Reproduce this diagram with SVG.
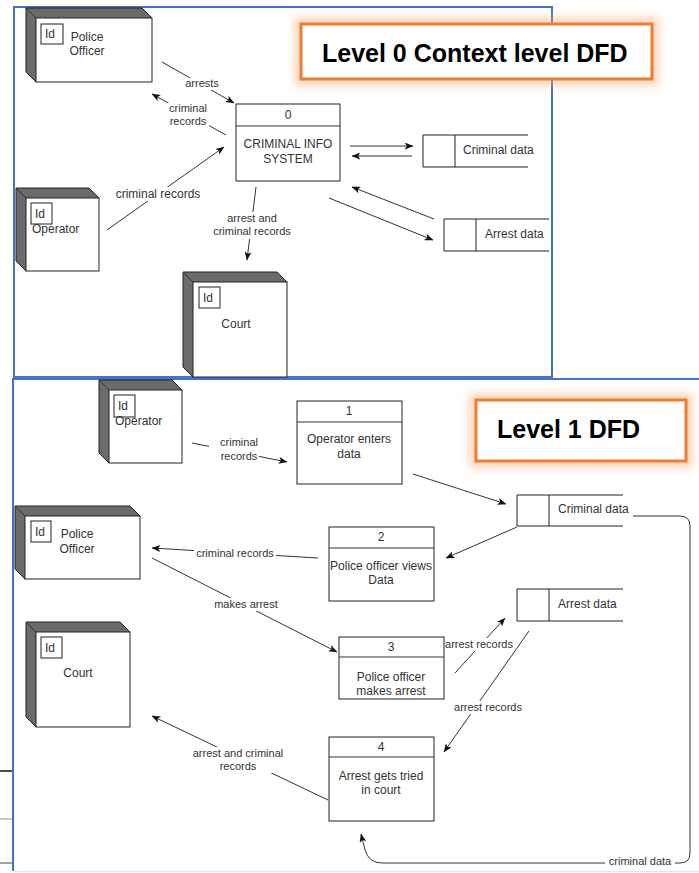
<svg xmlns="http://www.w3.org/2000/svg" width="699" height="873" viewBox="0 0 699 873">
  <defs>
    <style>
      .panel { fill: none; stroke: #4472C4; stroke-width: 2; }
      .side { fill: #6b6b6b; stroke: #222; stroke-width: 1; }
      .face { fill: #fff; stroke: #222; stroke-width: 1; }
      .idbox { fill: #fff; stroke: #222; stroke-width: 1; }
      .proc { fill: #fff; stroke: #222; stroke-width: 1; }
      .store { fill: none; stroke: #222; stroke-width: 1; }
      .edge { fill: none; stroke: #333; stroke-width: 1; }
      .arrow { marker-end: url(#arrowhead); }
      .lbl-bg { fill: #fff; }
      text { font-family: "Liberation Sans", Arial, sans-serif; fill: #333; }
      .t12 { font-size: 12px; }
      .t11 { font-size: 11px; }
      .mid { text-anchor: middle; }
      .title { font-family: "Liberation Sans", Arial, sans-serif; font-weight: bold; font-size: 25px; fill: #000; }
      .title-box { fill: #fff; stroke: #ED7D31; stroke-width: 3; }
      .title-glow { fill: none; stroke: #F7A76A; stroke-width: 13; opacity: 0.5; filter: url(#soft); }
    </style>
    <marker id="arrowhead" viewBox="0 0 10 8" refX="9.5" refY="4" markerWidth="9" markerHeight="7" markerUnits="userSpaceOnUse" orient="auto">
      <path d="M0,0 L10,4 L0,8 L2.5,4 Z" fill="#111"/>
    </marker>
    <filter id="soft" x="-15%" y="-40%" width="130%" height="180%">
      <feGaussianBlur stdDeviation="4"/>
    </filter>
  </defs>

  <rect width="699" height="873" fill="#fff"/>

  <!-- stray ruler marks along the left margin -->
  <g id="margin-marks">
    <line x1="0" y1="771" x2="12" y2="771" stroke="#111" stroke-width="1.5"/>
    <line x1="0" y1="819" x2="12" y2="819" stroke="#c8c8c8" stroke-width="2"/>
    <line x1="0" y1="863" x2="12" y2="863" stroke="#9aa4ae" stroke-width="2"/>
  </g>

  <!-- frames -->
  <g id="frames">
    <rect class="panel" x="14" y="7" width="538" height="370"/>
    <path class="panel" d="M13,871 L13,379 L700,379"/>
    <line x1="14" y1="871.5" x2="699" y2="871.5" stroke="#dce6f5" stroke-width="1.5"/>
  </g>

  <!-- titles -->
  <g id="title-level0">
    <rect class="title-glow" x="301" y="24" width="351" height="55"/>
    <rect class="title-box" x="301" y="24" width="351" height="55"/>
    <text class="title" x="322" y="62">Level 0 Context level DFD</text>
  </g>
  <g id="title-level1">
    <rect class="title-glow" x="476" y="400" width="210" height="61"/>
    <rect class="title-box" x="476" y="400" width="210" height="61"/>
    <text class="title" x="497" y="438">Level 1 DFD</text>
  </g>

  <!-- ===== Level 0 ===== -->
  <g id="l0-police-officer">
    <path class="side" d="M26,8 L142,8 L152,18 L36,82 L26,72 Z"/>
    <rect class="face" x="36" y="18" width="116" height="64"/>
    <line class="edge" x1="26" y1="8" x2="36" y2="18"/>
    <rect class="idbox" x="41" y="24" width="22" height="20"/>
    <text class="t12" x="45" y="38">Id</text>
    <text class="t12 mid" x="87" y="41">Police</text>
    <text class="t12 mid" x="87" y="55">Officer</text>
  </g>

  <g id="l0-operator">
    <path class="side" d="M16,188 L89,188 L99,198 L26,271 L16,261 Z"/>
    <rect class="face" x="26" y="198" width="73" height="73"/>
    <line class="edge" x1="16" y1="188" x2="26" y2="198"/>
    <rect class="idbox" x="31" y="203" width="21" height="21"/>
    <text class="t12" x="35" y="218">Id</text>
    <text class="t12" x="32" y="233">Operator</text>
  </g>

  <g id="l0-court">
    <path class="side" d="M183,272 L277,272 L287,282 L193,377 L183,367 Z"/>
    <rect class="face" x="193" y="282" width="94" height="95"/>
    <line class="edge" x1="183" y1="272" x2="193" y2="282"/>
    <rect class="idbox" x="199" y="287" width="21" height="21"/>
    <text class="t12" x="203" y="302">Id</text>
    <text class="t12 mid" x="236" y="328">Court</text>
  </g>

  <g id="l0-process-0">
    <rect class="proc" x="236" y="104" width="104" height="77"/>
    <line class="edge" x1="236" y1="126" x2="340" y2="126"/>
    <text class="t12 mid" x="288" y="119">0</text>
    <text class="t12 mid" x="288" y="148">CRIMINAL INFO</text>
    <text class="t12 mid" x="288" y="163">SYSTEM</text>
  </g>

  <g id="l0-criminal-data">
    <path class="store" d="M528,135 L423,135 L423,167 L528,167 M455,135 L455,167"/>
    <text class="t12" x="463" y="154">Criminal data</text>
  </g>

  <g id="l0-arrest-data">
    <path class="store" d="M549,219 L444,219 L444,251 L549,251 M476,219 L476,251"/>
    <text class="t12" x="485" y="238">Arrest data</text>
  </g>

  <!-- ===== Level 1 ===== -->
  <g id="l1-operator">
    <path class="side" d="M99,380 L172,380 L182,390 L109,463 L99,453 Z"/>
    <rect class="face" x="109" y="390" width="73" height="73"/>
    <line class="edge" x1="99" y1="380" x2="109" y2="390"/>
    <rect class="idbox" x="114" y="395" width="21" height="22"/>
    <text class="t12" x="118" y="410">Id</text>
    <text class="t12" x="115" y="425">Operator</text>
  </g>

  <g id="l1-police-officer">
    <path class="side" d="M15,506 L130,506 L140,516 L25,579 L15,569 Z"/>
    <rect class="face" x="25" y="516" width="115" height="63"/>
    <line class="edge" x1="15" y1="506" x2="25" y2="516"/>
    <rect class="idbox" x="31" y="521" width="20" height="21"/>
    <text class="t12" x="35" y="536">Id</text>
    <text class="t12 mid" x="77" y="538">Police</text>
    <text class="t12 mid" x="77" y="553">Officer</text>
  </g>

  <g id="l1-court">
    <path class="side" d="M26,622 L120,622 L130,632 L36,727 L26,717 Z"/>
    <rect class="face" x="36" y="632" width="94" height="95"/>
    <line class="edge" x1="26" y1="622" x2="36" y2="632"/>
    <rect class="idbox" x="41" y="637" width="21" height="21"/>
    <text class="t12" x="45" y="652">Id</text>
    <text class="t12 mid" x="78" y="677">Court</text>
  </g>

  <g id="l1-process-1">
    <rect class="proc" x="297" y="401" width="105" height="83"/>
    <line class="edge" x1="297" y1="422" x2="402" y2="422"/>
    <text class="t12 mid" x="349" y="415">1</text>
    <text class="t12 mid" x="349" y="443">Operator enters</text>
    <text class="t12 mid" x="349" y="458">data</text>
  </g>

  <g id="l1-process-2">
    <rect class="proc" x="329" y="527" width="105" height="74"/>
    <line class="edge" x1="329" y1="548" x2="434" y2="548"/>
    <text class="t12 mid" x="381" y="541">2</text>
    <text class="t12 mid" x="381" y="570">Police officer views</text>
    <text class="t12 mid" x="381" y="584">Data</text>
  </g>

  <g id="l1-process-3">
    <rect class="proc" x="339" y="637" width="105" height="62"/>
    <line class="edge" x1="339" y1="657" x2="444" y2="657"/>
    <text class="t12 mid" x="391" y="651">3</text>
    <text class="t12 mid" x="391" y="681">Police officer</text>
    <text class="t12 mid" x="391" y="695">makes arrest</text>
  </g>

  <g id="l1-process-4">
    <rect class="proc" x="329" y="737" width="105" height="84"/>
    <line class="edge" x1="329" y1="757" x2="434" y2="757"/>
    <text class="t12 mid" x="381" y="751">4</text>
    <text class="t12 mid" x="381" y="780">Arrest gets tried</text>
    <text class="t12 mid" x="381" y="794">in court</text>
  </g>

  <g id="l1-criminal-data">
    <path class="store" d="M623,495 L517,495 L517,526 L623,526 M549,495 L549,526"/>
    <text class="t12" x="558" y="513">Criminal data</text>
  </g>

  <g id="l1-arrest-data">
    <path class="store" d="M623,589 L517,589 L517,621 L623,621 M549,589 L549,621"/>
    <text class="t12" x="558" y="608">Arrest data</text>
  </g>

  <!-- ===== data flows ===== -->
  <g id="connectors">
    <!-- level 0 -->
    <path class="edge arrow" d="M162,62 L234,103"/>
    <path class="edge arrow" d="M226,135 L152,94"/>
    <path class="edge arrow" d="M107,230 L224,147"/>
    <path class="edge arrow" d="M256,187 L247,260"/>
    <path class="edge arrow" d="M350,146 L413,146"/>
    <path class="edge arrow" d="M412,156 L352,156"/>
    <path class="edge arrow" d="M434,219 L352,187"/>
    <path class="edge arrow" d="M329,198 L433,240"/>
    <!-- level 1 -->
    <path class="edge arrow" d="M192,443 L287,462"/>
    <path class="edge arrow" d="M413,474 L506,504"/>
    <path class="edge arrow" d="M517,527 L446,558"/>
    <path class="edge arrow" d="M318,558 L152,548"/>
    <path class="edge arrow" d="M152,558 L337,652"/>
    <path class="edge arrow" d="M455,673 L505,618"/>
    <path class="edge arrow" d="M529,631 L444,752"/>
    <path class="edge arrow" d="M328,800 L152,716"/>
    <path class="edge arrow" d="M633,516 L680,516 Q690,516 690,526 L690,853 Q690,863 680,863 L382,863 Q369,863 365,850 L361,834"/>

    <!-- flow labels -->
    <rect class="lbl-bg" x="184" y="78" width="36" height="12"/>
    <text class="t11 mid" x="202" y="87">arrests</text>

    <rect class="lbl-bg" x="167" y="103" width="42" height="26"/>
    <text class="t11 mid" x="188" y="112">criminal</text>
    <text class="t11 mid" x="188" y="125">records</text>

    <rect class="lbl-bg" x="114" y="187" width="89" height="14"/>
    <text class="t12 mid" x="158" y="198">criminal records</text>

    <rect class="lbl-bg" x="211" y="212" width="82" height="27"/>
    <text class="t11 mid" x="252" y="222">arrest and</text>
    <text class="t11 mid" x="252" y="235">criminal records</text>

    <rect class="lbl-bg" x="209" y="437" width="50" height="33"/>
    <text class="t11 mid" x="239" y="446">criminal</text>
    <text class="t11 mid" x="239" y="460">records</text>

    <rect class="lbl-bg" x="194" y="546" width="82" height="13"/>
    <text class="t11 mid" x="235" y="557">criminal records</text>

    <rect class="lbl-bg" x="211" y="598" width="70" height="13"/>
    <text class="t11 mid" x="246" y="608">makes arrest</text>

    <rect class="lbl-bg" x="445" y="638" width="69" height="13"/>
    <text class="t11 mid" x="479" y="648">arrest records</text>

    <rect class="lbl-bg" x="453" y="701" width="70" height="13"/>
    <text class="t11 mid" x="488" y="711">arrest records</text>

    <rect class="lbl-bg" x="190" y="747" width="96" height="26"/>
    <text class="t11 mid" x="238" y="757">arrest and criminal</text>
    <text class="t11 mid" x="238" y="770">records</text>

    <rect class="lbl-bg" x="605" y="856" width="70" height="12"/>
    <text class="t11 mid" x="640" y="865">criminal data</text>
  </g>
</svg>
